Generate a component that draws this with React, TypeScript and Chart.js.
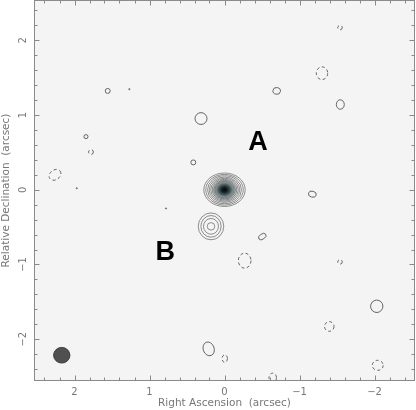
import { useEffect, useRef } from 'react';
import { Chart, registerables } from 'chart.js';

Chart.register(...registerables);

// Axis ranges (arcsec); RA increases to the left
const raMin = -2.54;
const raMax = 2.54;
const decMin = -2.56;
const decMax = 2.54;
const majorStep = 1;
const minorStep = 0.2;

// Faint noise contours: centre RA, centre Dec, semi-axes (arcsec), tilt (deg), sign (+1 solid / -1 dashed)
const blobRA = [1.557, 1.269, 0.313, 1.847, 1.78, 0.416, 2.26, 1.97, 0.78, -1.54, -1.3, -0.696, -1.544, -1.171, -0.504, -0.269, -1.54, -2.03, -1.397, 0.211, -0.003, -0.643, -2.043];
const blobDec = [1.323, 1.346, 0.953, 0.711, 0.505, 0.366, 0.2, 0.02, -0.25, 2.17, 1.56, 1.323, 1.141, -0.059, -0.627, -0.949, -0.966, -1.56, -1.83, -2.13, -2.26, -2.515, -2.35];
const blobRadRA = [0.033, 0.008, 0.08, 0.027, 0.032, 0.033, 0.085, 0.008, 0.008, 0.03, 0.076, 0.05, 0.053, 0.053, 0.055, 0.084, 0.03, 0.082, 0.063, 0.073, 0.036, 0.05, 0.073];
const blobRadDec = [0.033, 0.008, 0.079, 0.027, 0.032, 0.033, 0.065, 0.008, 0.008, 0.03, 0.085, 0.045, 0.063, 0.04, 0.035, 0.1, 0.03, 0.083, 0.065, 0.094, 0.05, 0.06, 0.067];
const blobTilt = [0, 0, 0, 0, 0, 0, -35, 0, 0, 0, 0, 10, 0, 15, -35, 0, 0, 20, 0, -20, 0, 0, 0];
const blobSign = [1, 1, 1, 1, -1, 1, -1, 1, 1, -1, -1, 1, 1, 1, 1, -1, -1, 1, -1, 1, -1, -1, -1];

// Component A: centre and nested contour semi-axes
const compARA = 0.0;
const compADec = 0.0;
const compARingRA = [0.276, 0.25, 0.226, 0.204, 0.184, 0.164, 0.145, 0.127];
const compARingDec = [0.224, 0.205, 0.187, 0.17, 0.154, 0.139, 0.124, 0.11];
const compACoreRA = 0.2;
const compACoreDec = 0.17;

// Component B: centre and nested contour semi-axes
const compBRA = 0.18;
const compBDec = -0.49;
const compBRingRA = [0.17, 0.135, 0.1, 0.05];
const compBRingDec = [0.18, 0.145, 0.105, 0.05];

// Restoring beam
const beamRA = 2.17;
const beamDec = -2.215;
const beamRadRA = 0.109;
const beamRadDec = 0.105;

// Component labels
const labelText = ['A', 'B'];
const labelRA = [-0.447, 0.789];
const labelDec = [0.64, -0.826];

const fmt = (v: number) => (v < 0 ? '\u2212' + Math.abs(v) : String(v));

const mapPlugin = {
  id: 'radioMap',
  beforeDatasetsDraw(chart: any) {
    const { ctx, chartArea: a, scales } = chart;
    const x = scales.x;
    const y = scales.y;
    ctx.save();
    ctx.fillStyle = '#f4f4f4';
    ctx.fillRect(a.left, a.top, a.right - a.left, a.bottom - a.top);
    // core of A
    const cx = x.getPixelForValue(compARA);
    const cy = y.getPixelForValue(compADec);
    const rx = Math.abs(x.getPixelForValue(compARA + compACoreRA) - cx);
    const ry = Math.abs(y.getPixelForValue(compADec + compACoreDec) - cy);
    ctx.translate(cx, cy);
    ctx.scale(1, ry / rx);
    const g = ctx.createRadialGradient(0, 0, 0, 0, 0, rx);
    g.addColorStop(0, '#050a0a');
    g.addColorStop(0.2, '#142222');
    g.addColorStop(0.45, '#56686a');
    g.addColorStop(0.7, '#b4bebe');
    g.addColorStop(1, 'rgba(244,244,244,0)');
    ctx.fillStyle = g;
    ctx.beginPath();
    ctx.arc(0, 0, rx, 0, Math.PI * 2);
    ctx.fill();
    ctx.restore();
  },
  afterDatasetsDraw(chart: any) {
    const { ctx, chartArea: a, scales } = chart;
    const x = scales.x;
    const y = scales.y;
    const ell = (ra: number, dec: number, sra: number, sdec: number, tilt: number) => {
      const cx = x.getPixelForValue(ra);
      const cy = y.getPixelForValue(dec);
      const rx = Math.abs(x.getPixelForValue(ra + sra) - cx);
      const ry = Math.abs(y.getPixelForValue(dec + sdec) - cy);
      ctx.beginPath();
      ctx.ellipse(cx, cy, Math.max(rx, 0.6), Math.max(ry, 0.6), (tilt * Math.PI) / 180, 0, Math.PI * 2);
    };
    ctx.save();
    ctx.beginPath();
    ctx.rect(a.left, a.top, a.right - a.left, a.bottom - a.top);
    ctx.clip();
    ctx.strokeStyle = '#555';
    ctx.lineWidth = 0.9;
    for (let i = 0; i < blobRA.length; i++) {
      ctx.setLineDash(blobSign[i] < 0 ? [3, 2.5] : []);
      ell(blobRA[i], blobDec[i], blobRadRA[i], blobRadDec[i], blobTilt[i]);
      ctx.stroke();
    }
    ctx.setLineDash([]);
    ctx.strokeStyle = '#6a6a6a';
    ctx.lineWidth = 0.75;
    for (let i = 0; i < compARingRA.length; i++) {
      ell(compARA, compADec, compARingRA[i], compARingDec[i], 0);
      ctx.stroke();
    }
    for (let i = 0; i < compBRingRA.length; i++) {
      ell(compBRA, compBDec, compBRingRA[i], compBRingDec[i], 0);
      ctx.stroke();
    }
    // beam
    ctx.lineWidth = 0.9;
    ell(beamRA, beamDec, beamRadRA, beamRadDec, 0);
    ctx.fillStyle = '#505050';
    ctx.fill();
    ctx.strokeStyle = '#333';
    ctx.stroke();
    ctx.restore();

    // labels
    ctx.save();
    ctx.fillStyle = '#000';
    ctx.font = 'bold 27px "Liberation Sans", Arial, sans-serif';
    ctx.textAlign = 'center';
    ctx.textBaseline = 'middle';
    for (let i = 0; i < labelText.length; i++) {
      ctx.fillText(labelText[i], x.getPixelForValue(labelRA[i]), y.getPixelForValue(labelDec[i]) + 1);
    }
    ctx.restore();

    // frame and inward ticks
    ctx.save();
    ctx.strokeStyle = '#8a8a8a';
    ctx.lineWidth = 1;
    const L = Math.round(a.left) + 0.5;
    const R = Math.round(a.right) - 0.5;
    const T = Math.round(a.top) + 0.5;
    const B = Math.round(a.bottom) - 0.5;
    ctx.strokeRect(L, T, R - L, B - T);
    ctx.beginPath();
    const nx0 = Math.ceil(raMin / minorStep - 1e-6);
    const nx1 = Math.floor(raMax / minorStep + 1e-6);
    for (let n = nx0; n <= nx1; n++) {
      const v = n * minorStep;
      const major = Math.abs(v / majorStep - Math.round(v / majorStep)) < 1e-6;
      const len = major ? 5 : 3;
      const px = Math.round(x.getPixelForValue(v)) + 0.5;
      ctx.moveTo(px, B);
      ctx.lineTo(px, B - len);
      ctx.moveTo(px, T);
      ctx.lineTo(px, T + len);
    }
    const ny0 = Math.ceil(decMin / minorStep - 1e-6);
    const ny1 = Math.floor(decMax / minorStep + 1e-6);
    for (let n = ny0; n <= ny1; n++) {
      const v = n * minorStep;
      const major = Math.abs(v / majorStep - Math.round(v / majorStep)) < 1e-6;
      const len = major ? 5 : 3;
      const py = Math.round(y.getPixelForValue(v)) + 0.5;
      ctx.moveTo(L, py);
      ctx.lineTo(L + len, py);
      ctx.moveTo(R, py);
      ctx.lineTo(R - len, py);
    }
    ctx.stroke();
    ctx.restore();
  },
};

export default function App() {
  const ref = useRef<HTMLCanvasElement>(null);
  useEffect(() => {
    document.body.style.margin = '0';
    const canvas = ref.current;
    if (!canvas) return;
    const tickFont = { family: '"DejaVu Sans", sans-serif', size: 10 };
    const titleFont = { family: '"DejaVu Sans", sans-serif', size: 10.5 };
    const chart = new Chart(canvas, {
      type: 'scatter',
      data: {
        datasets: [
          {
            label: 'components',
            data: [
              { x: compARA, y: compADec },
              { x: compBRA, y: compBDec },
            ],
            pointRadius: 0,
            pointHoverRadius: 0,
          },
        ],
      },
      options: {
        animation: false,
        responsive: false,
        devicePixelRatio: 1,
        events: [],
        layout: { padding: { top: 0, right: 1, bottom: 0, left: 0 } },
        plugins: { legend: { display: false }, tooltip: { enabled: false } },
        scales: {
          x: {
            type: 'linear',
            reverse: true,
            min: raMin,
            max: raMax,
            grid: { display: false, drawTicks: false },
            border: { display: false },
            ticks: {
              stepSize: majorStep,
              includeBounds: false,
              color: '#777',
              font: tickFont,
              padding: 5,
              maxRotation: 0,
              callback: (v: any) => fmt(Number(v)),
            },
            title: {
              display: true,
              text: 'Right Ascension  (arcsec)',
              color: '#777',
              font: titleFont,
              padding: { top: 0, bottom: 0 },
            },
            afterFit: (s: any) => {
              s.height = 29;
              s.paddingLeft = 0;
              s.paddingRight = 0;
              s.paddingTop = 0;
              s.paddingBottom = 0;
            },
          },
          y: {
            type: 'linear',
            min: decMin,
            max: decMax,
            grid: { display: false, drawTicks: false },
            border: { display: false },
            ticks: {
              stepSize: majorStep,
              includeBounds: false,
              color: '#777',
              font: tickFont,
              padding: 3,
              minRotation: 90,
              maxRotation: 90,
              crossAlign: 'center',
              callback: (v: any) => fmt(Number(v)),
            },
            title: {
              display: true,
              text: 'Relative Declination  (arcsec)',
              color: '#777',
              font: titleFont,
              padding: { top: 0, bottom: 0 },
            },
            afterFit: (s: any) => {
              s.width = 34;
              s.paddingLeft = 0;
              s.paddingRight = 0;
              s.paddingTop = 0;
              s.paddingBottom = 0;
            },
          },
        },
      },
      plugins: [mapPlugin],
    } as any);
    return () => chart.destroy();
  }, []);
  return <canvas ref={ref} width={416} height={410} style={{ display: 'block' }} />;
}
